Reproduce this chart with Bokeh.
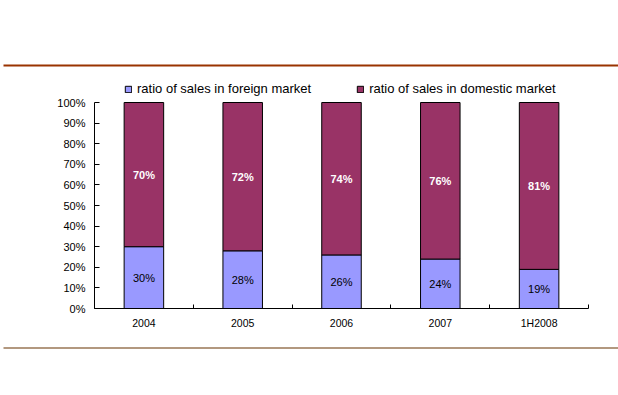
from bokeh.plotting import figure
from bokeh.models import (ColumnDataSource, FixedTicker, PrintfTickFormatter, Legend,
                          LegendItem, Range1d, BoxAnnotation)
from bokeh.embed import file_html
from bokeh.resources import INLINE
from bokeh.core.properties import value

# ---- data ----
categories = ["2004", "2005", "2006", "2007", "1H2008"]
foreign = [30, 28, 26, 24, 19]
domestic = [70, 72, 74, 76, 81]
series_names = ["ratio of sales in foreign market", "ratio of sales in domestic market"]
y_ticks = [0, 10, 20, 30, 40, 50, 60, 70, 80, 90, 100]

FONT = "Liberation Sans"
FOREIGN_COLOR = "#9999FF"
DOMESTIC_COLOR = "#993366"

# ---- layout constants (page pixels) ----
FIG_X0, FIG_Y0 = 0, 0
FIG_W, FIG_H = 618, 390
PLOT_L, PLOT_R, PLOT_T, PLOT_B = 94, 588, 102, 308

n = len(categories)
xs = list(range(1, n + 1))
x_lo, x_hi = 0.5, n + 0.5
y_lo, y_hi = 0, 100
ppx = (PLOT_R - PLOT_L) / (x_hi - x_lo)
ppy = (PLOT_B - PLOT_T) / (y_hi - y_lo)
x_start = x_lo - (PLOT_L - FIG_X0) / ppx
x_end = x_hi + (FIG_X0 + FIG_W - PLOT_R) / ppx
y_end = y_hi + (PLOT_T - FIG_Y0) / ppy
y_start = y_lo - (FIG_Y0 + FIG_H - PLOT_B) / ppy


def page_y_to_data(py):
    return y_hi - (py - PLOT_T) / ppy


def page_x_to_data(px):
    return x_lo + (px - PLOT_L) / ppx


src = ColumnDataSource(dict(x=xs, foreign=foreign, domestic=domestic))

p = figure(width=FIG_W, height=FIG_H, x_range=Range1d(x_start, x_end),
           y_range=Range1d(y_start, y_end), toolbar_location=None, output_backend="svg",
           min_border=0, outline_line_color=None)
p.xgrid.visible = False
p.ygrid.visible = False

rs = p.vbar_stack(["foreign", "domestic"], x="x", width=0.4, source=src,
                  fill_color=[FOREIGN_COLOR, DOMESTIC_COLOR], line_color="black", line_width=1)

# segment labels
f_src = ColumnDataSource(dict(x=xs, y=[f / 2 for f in foreign], t=[f"{f}%" for f in foreign]))
d_src = ColumnDataSource(dict(x=xs, y=[f + d / 2 for f, d in zip(foreign, domestic)],
                              t=[f"{d}%" for d in domestic]))
p.text(x="x", y="y", text="t", source=f_src, text_align="center", text_baseline="middle",
       text_color="black", text_font=value(FONT), text_font_size="11px")
p.text(x="x", y="y", text="t", source=d_src, text_align="center", text_baseline="middle",
       text_color="white", text_font=value(FONT), text_font_size="11px", text_font_style="bold")

# decorative rules
p.add_layout(BoxAnnotation(left=page_x_to_data(3), right=None,
                           top=page_y_to_data(64), bottom=page_y_to_data(66),
                           fill_color="#993300", fill_alpha=1, line_color=None))
p.add_layout(BoxAnnotation(left=page_x_to_data(3), right=None,
                           top=page_y_to_data(347), bottom=page_y_to_data(348),
                           fill_color="#663300", fill_alpha=1, line_color=None))

# legend
legend = Legend(items=[LegendItem(label=series_names[0], renderers=[rs[0]]),
                       LegendItem(label=series_names[1], renderers=[rs[1]])],
                orientation="horizontal", location=(124 - FIG_X0, FIG_Y0 + FIG_H - 96),
                padding=0, margin=0, spacing=45, glyph_width=8, glyph_height=8,
                label_standoff=5, label_text_font=FONT, label_text_font_size="13px",
                label_text_color="black", border_line_color=None, background_fill_alpha=0)
p.add_layout(legend)

# x axis
p.xaxis.fixed_location = y_lo
p.xaxis.bounds = (x_lo, x_hi)
p.xaxis.ticker = FixedTicker(ticks=xs, minor_ticks=[x - 0.5 for x in xs] + [xs[-1] + 0.5])
p.xaxis.major_label_overrides = {x: c for x, c in zip(xs, categories)}
p.xaxis.major_tick_in = 0
p.xaxis.major_tick_out = 0
p.xaxis.minor_tick_in = 4
p.xaxis.minor_tick_out = 0
p.xaxis.minor_tick_line_color = "black"
p.xaxis.axis_line_color = "black"
p.xaxis.major_label_standoff = 8
p.xaxis.major_label_text_font = FONT
p.xaxis.major_label_text_font_size = "10.5px"
p.xaxis.major_label_text_color = "black"

# y axis
p.yaxis.fixed_location = x_lo
p.yaxis.bounds = (y_lo, y_hi)
p.yaxis.ticker = FixedTicker(ticks=y_ticks)
p.yaxis.formatter = PrintfTickFormatter(format="%d%%")
p.yaxis.major_tick_in = 5
p.yaxis.major_tick_out = 0
p.yaxis.minor_tick_line_color = None
p.yaxis.major_tick_line_color = "black"
p.yaxis.axis_line_color = "black"
p.yaxis.major_label_standoff = 9
p.yaxis.major_label_text_font = FONT
p.yaxis.major_label_text_font_size = "11px"
p.yaxis.major_label_text_color = "black"

open("out.html", "w").write(file_html(p, INLINE))
